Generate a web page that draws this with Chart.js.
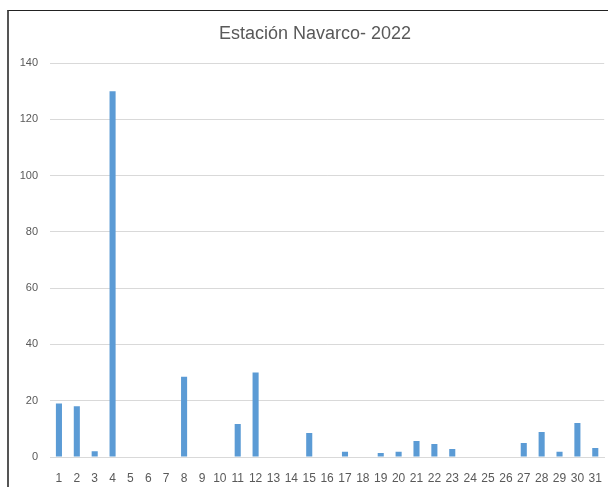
<!DOCTYPE html>
<html>
<head>
<meta charset="utf-8">
<script src="https://cdn.jsdelivr.net/npm/chart.js@4"></script>
<style>
  html, body { margin: 0; padding: 0; background: #fff; }
  #wrap {
    position: absolute; left: 7px; top: 10px;
    width: 599px; height: 476px;
    border-left: 2px solid #555; border-top: 1px solid #222;
    background: #fff;
  }
  #chart { display: block; }
</style>
</head>
<body>
<div id="wrap"><canvas id="chart" width="599" height="476"></canvas></div>
<script>
// días del mes
var dias = ['1','2','3','4','5','6','7','8','9','10','11','12','13','14','15','16',
  '17','18','19','20','21','22','23','24','25','26','27','28','29','30','31'];
// precipitación diaria
var valores = [19, 18, 2, 130, 0, 0, 0, 28.5, 0, 0, 11.7, 30, 0, 0, 8.5, 0,
  1.9, 0, 1.4, 1.9, 5.7, 4.6, 2.8, 0, 0, 0, 5, 8.9, 1.9, 12.1, 3.2];
var titulo = 'Estación Navarco- 2022';

// título dibujado a mano para fijar su posición
var tituloPlugin = {
  id: 'tituloPlugin',
  afterDraw: function(chart) {
    var ctx = chart.ctx;
    ctx.save();
    ctx.font = '18px "Liberation Sans", Arial, sans-serif';
    ctx.fillStyle = '#595959';
    ctx.textAlign = 'center';
    ctx.textBaseline = 'middle';
    ctx.fillText(titulo, 306, 23);
    ctx.restore();
  }
};

var ctx = document.getElementById('chart').getContext('2d');
var myChart = new Chart(ctx, {
  type: 'bar',
  data: {
    labels: dias,
    datasets: [{
      data: valores,
      backgroundColor: '#5B9BD5',
      barPercentage: 0.68,
      categoryPercentage: 0.5
    }]
  },
  options: {
    responsive: false,
    animation: false,
    layout: { padding: { top: 52, right: 3, bottom: 0, left: 0 } },
    plugins: {
      legend: { display: false },
      title: { display: false },
      tooltip: { enabled: false }
    },
    scales: {
      x: {
        grid: { display: false },
        border: { color: '#d9d9d9' },
        ticks: {
          color: '#595959',
          font: { size: 12, family: '"Liberation Sans", Arial, sans-serif' },
          maxRotation: 0,
          autoSkip: false,
          padding: 6
        },
        afterFit: function(scale) { scale.height = 30; }
      },
      y: {
        min: 0,
        max: 140,
        ticks: {
          stepSize: 20,
          color: '#595959',
          font: { size: 11, family: '"Liberation Sans", Arial, sans-serif' },
          padding: 12
        },
        grid: { color: '#d9d9d9', drawTicks: false },
        border: { display: false },
        afterFit: function(scale) { scale.width = 41; }
      }
    }
  },
  plugins: [tituloPlugin]
});
</script>
</body>
</html>
